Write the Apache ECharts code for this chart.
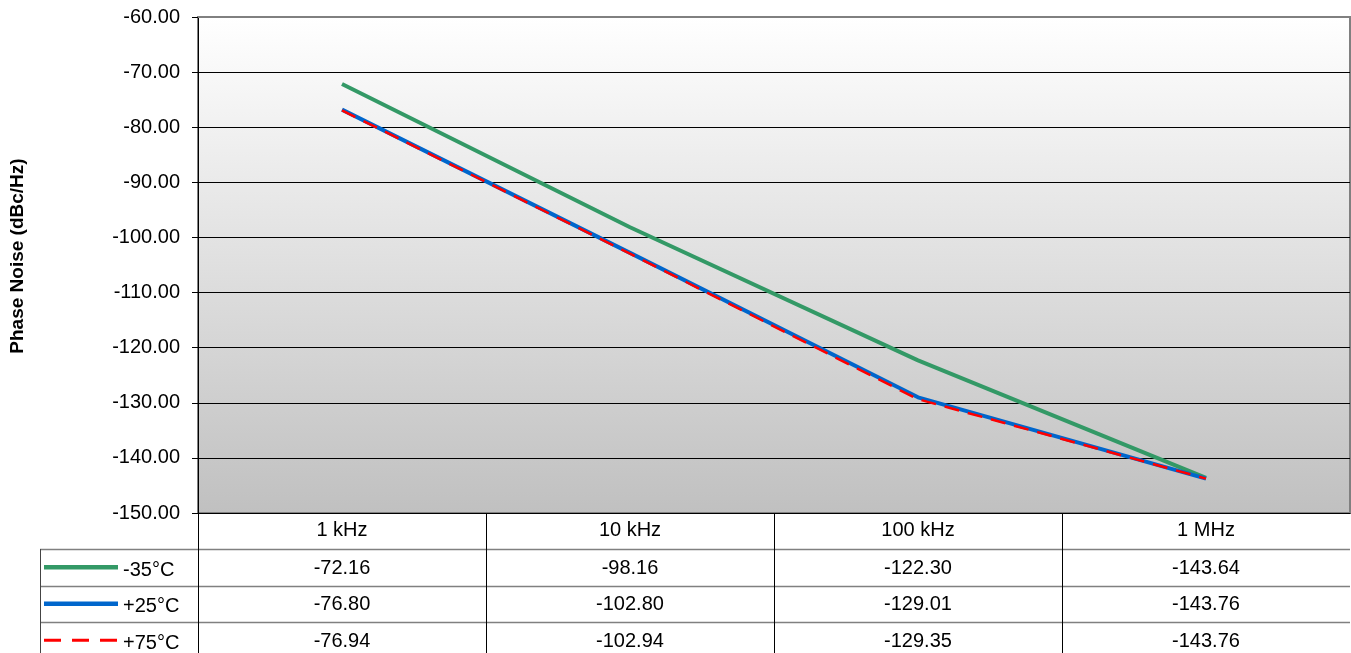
<!DOCTYPE html>
<html>
<head>
<meta charset="utf-8">
<script src="https://cdn.jsdelivr.net/npm/echarts@6/dist/echarts.min.js"></script>
<style>html,body{margin:0;padding:0;background:#fff;}#c{width:1351px;height:653px;}</style>
</head>
<body>
<div id="c"></div>
<script>
const categories = ['1 kHz', '10 kHz', '100 kHz', '1 MHz'];
const seriesNames = ['-35°C', '+25°C', '+75°C'];
const valuesM35 = [-72.16, -98.16, -122.30, -143.64];
const valuesP25 = [-76.80, -102.80, -129.01, -143.76];
const valuesP75 = [-76.94, -102.94, -129.35, -143.76];
const yMin = -150, yMax = -60, yStep = 10;
const yTitle = 'Phase Noise (dBc/Hz)';

const FONT = 'Liberation Sans, Arial, sans-serif';
const FS = 20;
const colors = ['#339966', '#0066CC', '#FF0000'];
const styles = [
  {width: 4, type: 'solid'},
  {width: 4, type: 'solid'},
  {width: 2.5, type: [15, 9]}
];
const seriesData = [valuesM35, valuesP25, valuesP75];

const chart = echarts.init(document.getElementById('c'));
const GRID = {left: 198, top: 17, right: 1, bottom: 140};
const option = {
  animation: false,
  backgroundColor: '#fff',
  grid: {
    left: GRID.left, top: GRID.top, right: GRID.right, bottom: GRID.bottom,
    show: true, borderColor: '#808080', borderWidth: 2,
    backgroundColor: new echarts.graphic.LinearGradient(0, 0, 0, 1, [
      {offset: 0, color: '#ffffff'},
      {offset: 1, color: '#c0c0c0'}
    ])
  },
  xAxis: {
    type: 'category', data: categories, boundaryGap: true,
    axisLine: {lineStyle: {color: '#000', width: 1}},
    axisTick: {show: false},
    axisLabel: {color: '#000', fontSize: FS, fontFamily: FONT, margin: 7},
    splitLine: {show: false}
  },
  yAxis: {
    type: 'value', min: yMin, max: yMax, interval: yStep,
    axisLine: {show: true, lineStyle: {color: '#000', width: 1}},
    axisTick: {show: true, length: 6, lineStyle: {color: '#000'}},
    axisLabel: {color: '#000', fontSize: FS, fontFamily: FONT, margin: 18,
      formatter: v => v.toFixed(2)},
    splitLine: {show: true, lineStyle: {color: '#000', width: 1}}
  },
  series: seriesNames.map((n, i) => ({
    name: n, type: 'line', data: seriesData[i], symbol: 'none',
    lineStyle: {color: colors[i], width: styles[i].width, type: styles[i].type},
    z: 2 + i
  }))
};
chart.setOption(option);

// Data table under the plot
const c0 = chart.convertToPixel({xAxisIndex: 0}, 0);
const c1 = chart.convertToPixel({xAxisIndex: 0}, 1);
const step = c1 - c0;
const plotBottom = 653 - GRID.bottom;
const headerBottom = 549;
const rowH = 36.5;
const legendLeft = 40;
const rightX = 1351 - GRID.right;
const g = [];
for (let k = 0; k < categories.length; k++) {
  const x = Math.round(c0 - step / 2 + k * step) + 0.5;
  g.push({type: 'line', shape: {x1: x, y1: plotBottom, x2: x, y2: 653},
    style: {stroke: '#000', lineWidth: 1}, z: 10});
}
for (let r = 0; r < seriesNames.length; r++) {
  const y = Math.round(headerBottom + r * rowH) + 0.5;
  g.push({type: 'line', shape: {x1: legendLeft, y1: y, x2: rightX, y2: y},
    style: {stroke: '#808080', lineWidth: 1.5}, z: 9});
}
g.push({type: 'line', shape: {x1: legendLeft + 0.5, y1: headerBottom, x2: legendLeft + 0.5, y2: 653},
  style: {stroke: '#444', lineWidth: 1}, z: 9});
// top plot border in grey
g.push({type: 'line', shape: {x1: GRID.left, y1: GRID.top, x2: rightX, y2: GRID.top},
  style: {stroke: '#808080', lineWidth: 2}, z: 9});
for (let r = 0; r < seriesNames.length; r++) {
  const yc = headerBottom + r * rowH + rowH / 2;
  g.push({type: 'line', shape: {x1: 44, y1: yc, x2: 118, y2: yc},
    style: {stroke: colors[r], lineWidth: r === 2 ? 3 : 4.5, lineDash: r === 2 ? [17, 11] : null}, z: 10});
  g.push({type: 'text', x: 123, y: yc + 3,
    style: {text: seriesNames[r], font: FS + 'px ' + FONT, fill: '#000', textAlign: 'left', textVerticalAlign: 'middle'}, z: 10});
  for (let k = 0; k < categories.length; k++) {
    const xc = chart.convertToPixel({xAxisIndex: 0}, k);
    g.push({type: 'text', x: xc, y: yc + 1,
      style: {text: seriesData[r][k].toFixed(2), font: FS + 'px ' + FONT, fill: '#000', textAlign: 'center', textVerticalAlign: 'middle'}, z: 10});
  }
}
g.push({type: 'text', x: 18, y: 256, rotation: Math.PI / 2,
  style: {text: yTitle, font: 'bold 19px ' + FONT, fill: '#000', textAlign: 'center', textVerticalAlign: 'middle'}, z: 10});
chart.setOption({graphic: {elements: g}});
</script>
</body>
</html>
